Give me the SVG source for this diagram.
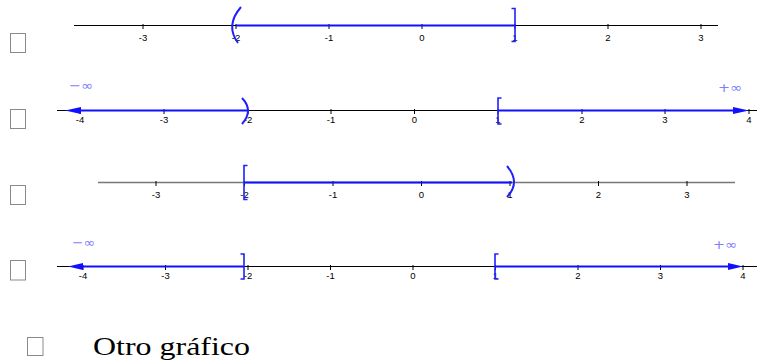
<svg xmlns="http://www.w3.org/2000/svg" width="757" height="364" viewBox="0 0 757 364">
<style>
.box{fill:#fff;stroke:#8a8a8a;stroke-width:1}
.axis{stroke:#000;stroke-width:1.2;fill:none}
.axisg{stroke:#777;stroke-width:1.4;fill:none}
.tick{stroke:#000;stroke-width:1}
.tl{font-family:"Liberation Sans",Arial,sans-serif;font-size:9.5px;fill:#000;text-anchor:middle}
.seg{stroke:#1010ff;stroke-width:2.2;fill:none}
.br{stroke:#2020ff;stroke-width:1.6;fill:none}
.par{stroke:#2020ff;stroke-width:2;fill:none}
.ah{fill:#1010ff}
.inf{font-family:"DejaVu Sans","Liberation Sans",sans-serif;font-size:13px;fill:#8080ff}
.big{font-family:"Liberation Serif","Times New Roman",serif;font-size:26px;fill:#000}
</style>

<g id="option1">
  <rect class="box" x="10.5" y="33.5" width="15" height="19"/>
  <line class="axis" x1="74" y1="25.5" x2="718" y2="25.5"/>
  <g class="tick">
    <line x1="143" y1="24" x2="143" y2="29"/><line x1="236" y1="24" x2="236" y2="29"/>
    <line x1="329" y1="24" x2="329" y2="29"/><line x1="422" y1="24" x2="422" y2="29"/>
    <line x1="515" y1="24" x2="515" y2="29"/><line x1="608" y1="24" x2="608" y2="29"/>
    <line x1="701" y1="24" x2="701" y2="29"/>
  </g>
  <g class="tl">
    <text x="143" y="41">-3</text><text x="236" y="41">-2</text><text x="329" y="41">-1</text>
    <text x="422" y="41">0</text><text x="515" y="41">1</text><text x="608" y="41">2</text><text x="701" y="41">3</text>
  </g>
  <line class="seg" x1="236" y1="25.5" x2="515" y2="25.5"/>
  <path class="par" d="M241,7 Q225,25.5 238,43"/>
  <path class="br" d="M511.5,8.5 H515 V41.5 H511.5"/>
</g>

<g id="option2">
  <rect class="box" x="10.5" y="109.5" width="15" height="19"/>
  <line class="axis" x1="57" y1="110.5" x2="757" y2="110.5"/>
  <g class="tick">
    <line x1="80" y1="109" x2="80" y2="114"/><line x1="164" y1="109" x2="164" y2="114"/>
    <line x1="248" y1="109" x2="248" y2="114"/><line x1="331" y1="109" x2="331" y2="114"/>
    <line x1="414.5" y1="109" x2="414.5" y2="114"/><line x1="498" y1="109" x2="498" y2="114"/>
    <line x1="582" y1="109" x2="582" y2="114"/><line x1="665" y1="109" x2="665" y2="114"/>
    <line x1="749" y1="109" x2="749" y2="114"/>
  </g>
  <g class="tl">
    <text x="80" y="123">-4</text><text x="164" y="123">-3</text><text x="248" y="123">-2</text>
    <text x="331" y="123">-1</text><text x="414.5" y="123">0</text><text x="498" y="123">1</text>
    <text x="582" y="123">2</text><text x="665" y="123">3</text><text x="749" y="123">4</text>
  </g>
  <line class="seg" x1="78" y1="110.5" x2="248" y2="110.5"/>
  <polygon class="ah" points="65,110.5 81,107 81,114"/>
  <path class="par" d="M242,98 Q254,110.5 242,124"/>
  <line class="seg" x1="498" y1="110.5" x2="735" y2="110.5"/>
  <polygon class="ah" points="749,110.5 733,107 733,114"/>
  <path class="br" d="M501.5,98 H498 V124 H501.5"/>
  <text class="inf" x="69" y="89.5" textLength="24" lengthAdjust="spacingAndGlyphs">−∞</text>
  <text class="inf" x="718" y="91.5" textLength="24" lengthAdjust="spacingAndGlyphs">+∞</text>
</g>

<g id="option3">
  <rect class="box" x="10.5" y="185.5" width="15" height="19"/>
  <line class="axisg" x1="98" y1="182.5" x2="735" y2="182.5"/>
  <g class="tick">
    <line x1="156" y1="181" x2="156" y2="186"/><line x1="244.5" y1="181" x2="244.5" y2="186"/>
    <line x1="333" y1="181" x2="333" y2="186"/><line x1="421.5" y1="181" x2="421.5" y2="186"/>
    <line x1="510" y1="181" x2="510" y2="186"/><line x1="598.5" y1="181" x2="598.5" y2="186"/>
    <line x1="687" y1="181" x2="687" y2="186"/>
  </g>
  <g class="tl">
    <text x="156" y="197.5">-3</text><text x="244.5" y="197.5">-2</text><text x="333" y="197.5">-1</text>
    <text x="421.5" y="197.5">0</text><text x="510" y="197.5">1</text><text x="598.5" y="197.5">2</text>
    <text x="687" y="197.5">3</text>
  </g>
  <line class="seg" x1="244" y1="182.5" x2="512" y2="182.5"/>
  <path class="br" d="M247.5,165.5 H244 V199.5 H247.5"/>
  <path class="par" d="M507,166 Q521,182.5 507,197"/>
</g>

<g id="option4">
  <rect class="box" x="10.5" y="260.5" width="15" height="19.5"/>
  <line class="axis" x1="57" y1="266.5" x2="757" y2="266.5"/>
  <g class="tick">
    <line x1="83" y1="265" x2="83" y2="270"/><line x1="165.5" y1="265" x2="165.5" y2="270"/>
    <line x1="248" y1="265" x2="248" y2="270"/><line x1="330.5" y1="265" x2="330.5" y2="270"/>
    <line x1="413" y1="265" x2="413" y2="270"/><line x1="495.5" y1="265" x2="495.5" y2="270"/>
    <line x1="578" y1="265" x2="578" y2="270"/><line x1="660.5" y1="265" x2="660.5" y2="270"/>
    <line x1="743" y1="265" x2="743" y2="270"/>
  </g>
  <g class="tl">
    <text x="83" y="279">-4</text><text x="165.5" y="279">-3</text><text x="248" y="279">-2</text>
    <text x="330.5" y="279">-1</text><text x="413" y="279">0</text><text x="495.5" y="279">1</text>
    <text x="578" y="279">2</text><text x="660.5" y="279">3</text><text x="743" y="279">4</text>
  </g>
  <line class="seg" x1="80" y1="266.5" x2="244" y2="266.5"/>
  <polygon class="ah" points="68,266.5 83,263 83,270"/>
  <path class="br" d="M240.5,254 H244 V279 H240.5"/>
  <line class="seg" x1="495" y1="266.5" x2="731" y2="266.5"/>
  <polygon class="ah" points="743,266.5 728,263 728,270"/>
  <path class="br" d="M498.5,254 H495 V279 H498.5"/>
  <text class="inf" x="72" y="246.5" textLength="23" lengthAdjust="spacingAndGlyphs">−∞</text>
  <text class="inf" x="713" y="248.5" textLength="24" lengthAdjust="spacingAndGlyphs">+∞</text>
</g>

<g id="option5">
  <rect class="box" x="27.5" y="337.5" width="15.5" height="18"/>
  <text class="big" x="93" y="354.5" textLength="157" lengthAdjust="spacingAndGlyphs">Otro gráfico</text>
</g>
<g id="connectors"/>
</svg>
